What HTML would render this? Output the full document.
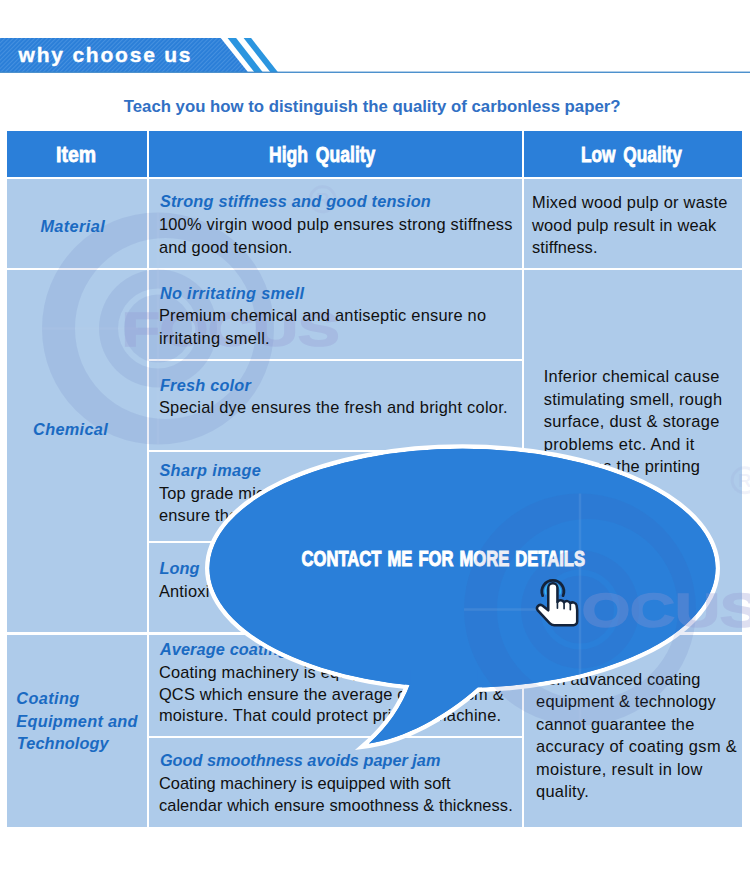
<!DOCTYPE html>
<html lang="en">
<head>
<meta charset="utf-8">
<title>why choose us</title>
<style>
html,body{margin:0;padding:0;background:#fff;}
body{width:750px;height:875px;position:relative;overflow:hidden;font-family:"Liberation Sans",sans-serif;}
.c{position:absolute;background:#aecbea;}
.hd{position:absolute;background:#2b7fd9;}
.t{position:absolute;white-space:pre;line-height:20px;}
.n{font:16.4px/20px "Liberation Sans",sans-serif;color:#101010;}
.h{font:italic bold 16.3px/20px "Liberation Sans",sans-serif;color:#1a6ac2;}
.imp{position:absolute;white-space:pre;color:#fff;font:bold 22.3px/24px "Liberation Sans",sans-serif;transform-origin:0 0;-webkit-text-stroke:0.8px #fff;}
#banner{position:absolute;left:0;top:0;}
#title{position:absolute;left:123.8px;top:97.3px;white-space:pre;font:bold 16.76px/20px "Liberation Sans",sans-serif;color:#3170c4;}
#why{position:absolute;left:18.6px;top:43.4px;white-space:pre;font:bold 21px/24px "Liberation Sans",sans-serif;color:#fff;letter-spacing:1.78px;-webkit-text-stroke:0.35px #fff;}
#wm,#bubble,#wm2{position:absolute;left:0;top:0;}
</style>
</head>
<body>
<!-- top banner -->
<svg id="banner" width="750" height="80" viewBox="0 0 750 80">
  <defs>
    <pattern id="hatch" width="3" height="3" patternUnits="userSpaceOnUse" patternTransform="rotate(45)">
      <rect width="3" height="3" fill="#2a7ed8"/>
      <rect width="1.1" height="3" fill="#4590df"/>
    </pattern>
  </defs>
  <polygon points="0,38 220.7,38 247.9,72 0,72" fill="url(#hatch)"/>
  <polygon points="227.6,38 236.1,38 262.6,72 254.2,72" fill="#2b95df"/>
  <polygon points="243.6,38 251.1,38 277.8,72 270.2,72" fill="#2b95df"/>
  <rect x="0" y="71.6" width="750" height="1.3" fill="#3a86c8"/>
</svg>
<div id="why">why choose us</div>
<div id="title">Teach you how to distinguish the quality of carbonless paper?</div>

<!-- table header -->
<div class="hd" style="left:7px;top:131px;width:140px;height:46px"></div>
<div class="hd" style="left:149px;top:131px;width:373px;height:46px"></div>
<div class="hd" style="left:524px;top:131px;width:218px;height:46px"></div>
<span class="imp" style="left:56px;top:143.4px;transform:scaleX(0.872)">Item</span>
<span class="imp" style="left:269px;top:143.4px;transform:scaleX(0.788);word-spacing:3.7px">High Quality</span>
<span class="imp" style="left:580.9px;top:143.4px;transform:scaleX(0.774);word-spacing:3.9px">Low Quality</span>

<!-- table body cells -->
<div class="c" style="left:7px;top:179px;width:140px;height:89px"></div>
<div class="c" style="left:7px;top:270px;width:140px;height:362px"></div>
<div class="c" style="left:7px;top:634.5px;width:140px;height:192px"></div>

<div class="c" style="left:149px;top:179px;width:373px;height:89px"></div>
<div class="c" style="left:149px;top:270px;width:373px;height:89px"></div>
<div class="c" style="left:149px;top:361px;width:373px;height:89px"></div>
<div class="c" style="left:149px;top:452px;width:373px;height:88.5px"></div>
<div class="c" style="left:149px;top:542.5px;width:373px;height:89.5px"></div>
<div class="c" style="left:149px;top:634.5px;width:373px;height:101.5px"></div>
<div class="c" style="left:149px;top:738px;width:373px;height:88.5px"></div>

<div class="c" style="left:524px;top:179px;width:218px;height:89px"></div>
<div class="c" style="left:524px;top:270px;width:218px;height:362px"></div>
<div class="c" style="left:524px;top:634.5px;width:218px;height:192px"></div>

<svg id="wm" width="750" height="875" viewBox="0 0 750 875" style="pointer-events:none">
  <g fill="#4053ae" fill-opacity="0.105" fill-rule="evenodd">
    <path d="M42,328.5 a116,116 0 1 0 232,0 a116,116 0 1 0 -232,0 Z M75,328.5 a90.5,90.5 0 1 1 181,0 a90.5,90.5 0 1 1 -181,0 Z"/>
    <path d="M99,328.5 a59,59 0 1 0 118,0 a59,59 0 1 0 -118,0 Z M118,328.5 a40,40 0 1 1 80,0 a40,40 0 1 1 -80,0 Z M124,328.5 a34,34 0 1 0 68,0 a34,34 0 1 0 -68,0 Z"/>
  </g>
  <g stroke="#c4d8f2" stroke-opacity="0.12" stroke-width="2.5" fill="none">
    <path d="M42,328.5 H138 M158,212.5 V444.5"/>
  </g>
  <g opacity="0.30" transform="translate(121.7,345.5) scale(1.27,1)">
    <text x="0" y="0" font-family="'Liberation Sans',sans-serif" font-weight="bold" font-size="49" fill="#9498d3" stroke="#9498d3" stroke-width="1.6">FOCUS</text>
  </g>
  <g fill="none" stroke="#9498d3" stroke-opacity="0.13" stroke-width="3">
    <circle cx="322.7" cy="199.3" r="12.5"/>
  </g>
  <text x="322.7" y="206.3" text-anchor="middle" font-family="'Liberation Sans',sans-serif" font-weight="bold" font-size="19" fill="#9498d3" fill-opacity="0.13">R</text>
</svg>

<!-- text -->
<span class="t h" style="left:159.9px;top:191.2px;letter-spacing:0.22px">Strong stiffness and good tension</span>
<span class="t n" style="left:158.9px;top:214.3px;letter-spacing:0.25px">100% virgin wood pulp ensures strong stiffness</span>
<span class="t n" style="left:158.9px;top:236.6px;letter-spacing:0.20px">and good tension.</span>
<span class="t h" style="left:159.9px;top:283.2px;letter-spacing:0.32px">No irritating smell</span>
<span class="t n" style="left:158.9px;top:305.1px;letter-spacing:0.23px">Premium chemical and antiseptic ensure no</span>
<span class="t n" style="left:158.9px;top:327.5px;letter-spacing:0.32px">irritating smell.</span>
<span class="t h" style="left:159.9px;top:374.7px;letter-spacing:0.23px">Fresh color</span>
<span class="t n" style="left:158.9px;top:397.4px;letter-spacing:0.25px">Special dye ensures the fresh and bright color.</span>
<span class="t h" style="left:159.4px;top:460.2px;letter-spacing:0.37px">Sharp image</span>
<span class="t n" style="left:158.9px;top:482.9px;letter-spacing:0.20px">Top grade microcapsule</span>
<span class="t n" style="left:158.9px;top:504.9px;letter-spacing:0.20px">ensure the</span>
<span class="t h" style="left:159.4px;top:558.0px;letter-spacing:0.12px">Long</span>
<span class="t n" style="left:158.9px;top:580.8px;letter-spacing:0.20px">Antioxi</span>
<span class="t h" style="left:159.9px;top:639.4px;letter-spacing:0.12px">Average coating gsm</span>
<span class="t n" style="left:158.9px;top:661.6px;letter-spacing:0.20px">Coating machinery is equip</span>
<span class="t n" style="left:158.9px;top:683.6px;letter-spacing:0.21px">QCS which ensure the average coating gsm &amp;</span>
<span class="t n" style="left:158.9px;top:705.2px;letter-spacing:0.22px">moisture. That could protect printing machine.</span>
<span class="t h" style="left:159.9px;top:750.0px;letter-spacing:0.00px">Good smoothness avoids paper jam</span>
<span class="t n" style="left:158.9px;top:772.8px;letter-spacing:0.05px">Coating machinery is equipped with soft</span>
<span class="t n" style="left:158.9px;top:794.8px;letter-spacing:0.09px">calendar which ensure smoothness &amp; thickness.</span>
<span class="t n" style="left:532.0px;top:192.2px;letter-spacing:0.26px">Mixed wood pulp or waste</span>
<span class="t n" style="left:532.0px;top:214.8px;letter-spacing:0.21px">wood pulp result in weak</span>
<span class="t n" style="left:532.0px;top:236.8px;letter-spacing:0.12px">stiffness.</span>
<span class="t n" style="left:543.7px;top:366.3px;letter-spacing:0.32px">Inferior chemical cause</span>
<span class="t n" style="left:543.7px;top:388.9px;letter-spacing:0.27px">stimulating smell, rough</span>
<span class="t n" style="left:543.7px;top:411.2px;letter-spacing:0.32px">surface, dust &amp; storage</span>
<span class="t n" style="left:543.7px;top:433.5px;letter-spacing:0.35px">problems etc. And it</span>
<span class="t n" style="right:49.9px;top:456.0px;letter-spacing:0.21px">damages the printing</span>
<span class="t n" style="right:49.6px;top:669.2px;letter-spacing:0.09px">Non advanced coating</span>
<span class="t n" style="left:536.1px;top:691.4px;letter-spacing:0.18px">equipment &amp; technology</span>
<span class="t n" style="left:536.1px;top:713.8px;letter-spacing:0.17px">cannot guarantee the</span>
<span class="t n" style="left:536.1px;top:736.1px;letter-spacing:0.35px">accuracy of coating gsm &amp;</span>
<span class="t n" style="left:536.1px;top:758.5px;letter-spacing:0.35px">moisture, result in low</span>
<span class="t n" style="left:536.1px;top:780.7px;letter-spacing:0.27px">quality.</span>
<span class="t h" style="left:40.4px;top:216.0px;letter-spacing:0.39px">Material</span>
<span class="t h" style="left:33.1px;top:419.0px;letter-spacing:0.31px">Chemical</span>
<span class="t h" style="left:16.3px;top:688.3px;letter-spacing:0.40px">Coating</span>
<span class="t h" style="left:16.3px;top:710.7px;letter-spacing:0.30px">Equipment and</span>
<span class="t h" style="left:16.8px;top:732.5px;letter-spacing:0.11px">Technology</span>

<svg id="bubble" width="750" height="875" viewBox="0 0 750 875">
  <g fill="#2a7fd9" stroke="#fff" stroke-width="9" stroke-linejoin="miter" stroke-miterlimit="10" paint-order="stroke">
    <ellipse cx="462.5" cy="568.3" rx="253" ry="119.5"/>
    <path d="M410.5,676 L410.5,683 Q397.5,718 369,743.5 C404,738.5 444,717 477.5,687.5 L477.5,676 Z"/>
  </g>
  <g fill="#2a7fd9">
    <ellipse cx="462.5" cy="568.3" rx="253" ry="119.5"/>
    <path d="M410.5,670 L410.5,683 Q397.5,718 369,743.5 C404,738.5 444,717 477.5,687.5 L477.5,670 Z"/>
  </g>
  <g transform="translate(301.6,566) scale(0.775,1)">
    <text x="0" y="0" font-family="'Liberation Sans',sans-serif" font-weight="bold" font-size="21.4" word-spacing="1.93" fill="#fff" stroke="#fff" stroke-width="1">CONTACT ME FOR MORE DETAILS</text>
  </g>
</svg>

<svg id="wm2" width="750" height="875" viewBox="0 0 750 875" style="pointer-events:none">
  <g fill="#4053ae" fill-opacity="0.105" fill-rule="evenodd">
    <path d="M464,609.5 a116,116 0 1 0 232,0 a116,116 0 1 0 -232,0 Z M497,609.5 a90.5,90.5 0 1 1 181,0 a90.5,90.5 0 1 1 -181,0 Z"/>
    <path d="M521,609.5 a59,59 0 1 0 118,0 a59,59 0 1 0 -118,0 Z M540,609.5 a40,40 0 1 1 80,0 a40,40 0 1 1 -80,0 Z M546,609.5 a34,34 0 1 0 68,0 a34,34 0 1 0 -68,0 Z"/>
  </g>
  <g stroke="#c4d8f2" stroke-opacity="0.12" stroke-width="2.5" fill="none">
    <path d="M464,609.5 H560 M580,493.5 V725.5"/>
  </g>
  <g opacity="0.30" transform="translate(581.7,626.5) scale(1.27,1)">
    <text x="0" y="0" font-family="'Liberation Sans',sans-serif" font-weight="bold" font-size="49" fill="#9498d3" stroke="#9498d3" stroke-width="1.6">OCUS</text>
  </g>
  <g fill="none" stroke="#9498d3" stroke-opacity="0.13" stroke-width="3">
    <circle cx="744.7" cy="480.3" r="12.5"/>
  </g>
  <text x="744.7" y="487.3" text-anchor="middle" font-family="'Liberation Sans',sans-serif" font-weight="bold" font-size="19" fill="#9498d3" fill-opacity="0.13">R</text>
</svg>
<svg id="handsvg" width="750" height="875" viewBox="0 0 750 875" style="position:absolute;left:0;top:0">
  <!-- hand pointer -->
  <g id="hand" transform="translate(556.8,604.4) scale(1.04) translate(-556.8,-604.4)">
    <path d="M543.2,596 A10.6,10.6 0 1 1 562.8,596" fill="none" stroke="#14233a" stroke-width="2.7" stroke-linecap="round"/>
    <path d="M546.2,594.5 A7.4,7.4 0 1 1 559.8,594.5" fill="none" stroke="#35b4ee" stroke-width="1.3" stroke-linecap="round"/>
    <path d="M548.6,588.5 a4.4,4.4 0 0 1 8.8,0 v13.6 c1.6,-2.4 5.2,-2.2 6.4,0.4 c1.6,-2 5,-1.6 6,0.8 c1.8,-1.6 5.6,-0.8 6,2 l0.6,4.5 v11 a3.6,3.6 0 0 1 -3.6,3.6 h-18.5 a6,6 0 0 1 -4.4,-1.9 l-11.4,-12.4 c-2.2,-2.6 1,-6.6 4.4,-4.6 l5.7,4.6 z" fill="#fff" stroke="#14233a" stroke-width="2.4" stroke-linejoin="round"/>
    <path d="M557.4,602 v6 M563.8,603 v5.5 M569.8,604.5 v5" stroke="#16283f" stroke-width="1.6" stroke-linecap="round" fill="none"/>
  </g>
</svg>
</body>
</html>
